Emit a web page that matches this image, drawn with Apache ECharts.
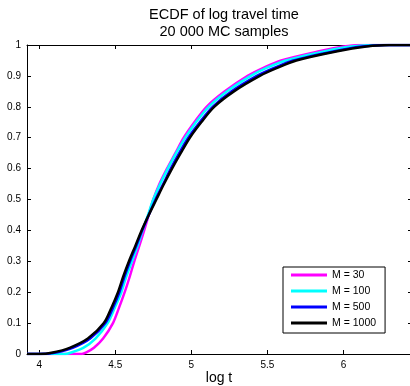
<!DOCTYPE html>
<html>
<head>
<meta charset="utf-8">
<script src="https://cdn.jsdelivr.net/npm/echarts@6/dist/echarts.min.js"></script>
<style>
  html, body { margin: 0; padding: 0; background: #fff; }
  #chart { width: 410px; height: 386px; }
</style>
</head>
<body>
<div id="chart"></div>
<script>
// probability levels and the x (log t) where each curve reaches them
const levels = [0, 0, 0.005, 0.02, 0.05, 0.1, 0.15, 0.2, 0.25, 0.3, 0.35, 0.4, 0.45, 0.5, 0.55, 0.6, 0.65, 0.7, 0.75, 0.8, 0.85, 0.9, 0.925, 0.95, 0.98, 0.995, 1, 1];
const xM30   = [3.92, 4.28, 4.31, 4.36, 4.42, 4.485, 4.525, 4.562, 4.595, 4.625, 4.658, 4.69, 4.72, 4.75, 4.79, 4.84, 4.895, 4.95, 5.02, 5.10, 5.22, 5.37, 5.47, 5.59, 5.84, 6.00, 6.10, 6.45];
const xM100  = [3.92, 4.17, 4.21, 4.29, 4.37, 4.45, 4.497, 4.54, 4.572, 4.61, 4.647, 4.68, 4.715, 4.75, 4.795, 4.845, 4.90, 4.96, 5.03, 5.114, 5.235, 5.39, 5.49, 5.62, 5.88, 6.05, 6.20, 6.45];
const xM500  = [3.92, 4.01, 4.11, 4.22, 4.335, 4.435, 4.485, 4.527, 4.56, 4.597, 4.638, 4.677, 4.72, 4.765, 4.815, 4.865, 4.92, 4.98, 5.055, 5.14, 5.265, 5.43, 5.54, 5.67, 5.94, 6.12, 6.27, 6.45];
const xM1000 = [3.92, 4.00, 4.09, 4.20, 4.32, 4.425, 4.475, 4.518, 4.552, 4.59, 4.632, 4.673, 4.72, 4.77, 4.82, 4.873, 4.93, 4.99, 5.065, 5.15, 5.28, 5.45, 5.56, 5.69, 5.96, 6.15, 6.30, 6.45];
const names = ['M = 30', 'M = 100', 'M = 500', 'M = 1000'];
const colors = ['#ff00ff', '#00ffff', '#0000ff', '#000000'];
const xTicks = [4, 4.5, 5, 5.5, 6];

const font = '"Liberation Sans", Arial, Helvetica, sans-serif';
const chart = echarts.init(document.getElementById('chart'));

const pairs = xs => xs.map((x, i) => [x, levels[i]]);
const curves = [xM30, xM100, xM500, xM1000];

const option = {
    backgroundColor: '#fff',
    animation: false,
    title: [{
        text: 'ECDF of log travel time\n20 000 MC samples',
        left: 219,
        top: 2,
        textAlign: 'center',
        textStyle: { fontFamily: font, fontSize: 14.5, fontWeight: 'normal', color: '#000', lineHeight: 16.5 }
    }, {
        // x axis name, placed by hand so it sits like the original
        text: 'log t',
        left: 219,
        top: 370,
        padding: 0,
        textAlign: 'center',
        textStyle: { fontFamily: font, fontSize: 14, fontWeight: 'normal', color: '#000', lineHeight: 16 }
    }],
    legend: {
        data: names,
        orient: 'vertical',
        left: 283,
        top: 267,
        padding: [2, 9, 4, 8],
        borderColor: '#000',
        borderWidth: 1,
        backgroundColor: '#fff',
        icon: 'rect',
        itemWidth: 36,
        itemHeight: 3,
        itemGap: 4,
        textStyle: { fontFamily: font, fontSize: 10.5, color: '#000', lineHeight: 12 }
    },
    grid: { left: 27, top: 45, width: 385, height: 309, outerBoundsMode: 'none', containLabel: false },
    xAxis: [{
        type: 'value',
        min: 3.92,
        max: 6.45,
        axisLine: { onZero: false, lineStyle: { color: '#000', width: 1 } },
        axisTick: { inside: true, length: 4, customValues: xTicks, lineStyle: { color: '#000' } },
        axisLabel: { customValues: xTicks, fontFamily: font, fontSize: 10, color: '#000', margin: 6 },
        splitLine: { show: false }
    }, {
        type: 'value',
        position: 'top',
        min: 3.92,
        max: 6.45,
        axisLine: { onZero: false, lineStyle: { color: '#000', width: 1 } },
        axisTick: { inside: true, length: 4, customValues: xTicks, lineStyle: { color: '#000' } },
        axisLabel: { show: false },
        splitLine: { show: false }
    }],
    yAxis: [{
        type: 'value',
        min: 0,
        max: 1,
        interval: 0.1,
        axisLine: { show: true, onZero: false, lineStyle: { color: '#000', width: 1 } },
        axisTick: { show: true, inside: true, length: 4, lineStyle: { color: '#000' } },
        axisLabel: { fontFamily: font, fontSize: 10, color: '#000', margin: 6 },
        splitLine: { show: false }
    }, {
        type: 'value',
        position: 'right',
        min: 0,
        max: 1,
        interval: 0.1,
        axisLine: { show: true, onZero: false, lineStyle: { color: '#000', width: 1 } },
        axisTick: { show: true, inside: true, length: 4, lineStyle: { color: '#000' } },
        axisLabel: { show: false },
        splitLine: { show: false }
    }],
    series: curves.map((xs, i) => ({
        name: names[i],
        type: 'line',
        data: pairs(xs),
        smooth: 0.3,
        showSymbol: false,
        color: colors[i],
        lineStyle: { width: 2.5, color: colors[i] },
        z: 2 + i
    }))
};
chart.setOption(option);
</script>
</body>
</html>
